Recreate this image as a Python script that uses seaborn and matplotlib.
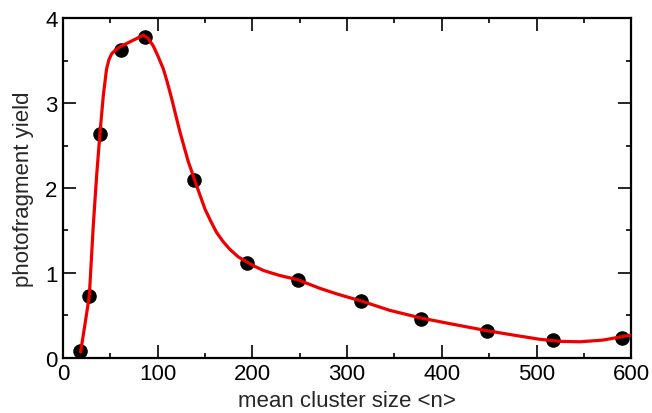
import matplotlib
matplotlib.use("Agg")
import matplotlib.pyplot as plt
import seaborn as sns
from matplotlib.ticker import MultipleLocator
from pandas import DataFrame

# Measured points
cluster_size = [18, 27.5, 39, 61, 86.5, 138, 194, 248, 315, 378, 448, 517, 590]
yield_vals = [0.08, 0.73, 2.64, 3.62, 3.78, 2.09, 1.12, 0.92, 0.67, 0.46, 0.32, 0.21, 0.24]

# Fit curve
fit_x = [18.6, 23, 27.8, 32, 35.5, 39, 42.6, 46, 48.5, 51.4, 55, 60, 70.7, 78, 84.8,
         90, 95.4, 100, 106, 110, 114.8, 119, 123.5, 128, 132.3, 137, 141, 145.5,
         150, 156, 162, 169, 176, 185, 194, 202, 211.5, 220, 229, 248, 271, 290,
         315, 345, 378, 410, 448, 475, 503, 525, 546, 570, 600]
fit_y = [0.07, 0.38, 0.73, 1.56, 2.14, 2.64, 3.09, 3.40, 3.51, 3.58, 3.62, 3.66, 3.72,
         3.76, 3.80, 3.76, 3.67, 3.56, 3.40, 3.25, 3.05, 2.86, 2.66, 2.48, 2.31, 2.16,
         2.03, 1.89, 1.75, 1.61, 1.48, 1.37, 1.28, 1.19, 1.13, 1.08, 1.03, 1.0, 0.97,
         0.92, 0.82, 0.75, 0.67, 0.56, 0.47, 0.40, 0.32, 0.27, 0.22, 0.195, 0.19,
         0.21, 0.27]


def plot() -> None:
    sns.set_style("ticks")
    plt.rcParams["font.family"] = ["Liberation Sans", "DejaVu Sans"]

    fig = plt.figure(figsize=(6.52, 4.14), dpi=100)
    ax = fig.add_axes([0.0966, 0.133, 0.8716, 0.821])

    fit = DataFrame({"x": fit_x, "y": fit_y})
    pts = DataFrame({"x": cluster_size, "y": yield_vals})

    sns.scatterplot(data=pts, x="x", y="y", ax=ax, color="black", s=110,
                    edgecolor="black", linewidth=0, zorder=2)
    sns.lineplot(data=fit, x="x", y="y", ax=ax, color="#ee0000", linewidth=2.3,
                 sort=False, estimator=None, zorder=3)

    ax.set_xlim(0, 600)
    ax.set_ylim(0, 4)
    ax.xaxis.set_major_locator(MultipleLocator(100))
    ax.xaxis.set_minor_locator(MultipleLocator(50))
    ax.yaxis.set_major_locator(MultipleLocator(1))
    ax.yaxis.set_minor_locator(MultipleLocator(0.5))
    ax.tick_params(which="both", direction="in", top=True, right=True,
                   width=1.2, labelsize=16, colors="black")
    ax.tick_params(which="major", length=9.5, pad=4)
    ax.tick_params(which="minor", length=3.5)
    for s in ax.spines.values():
        s.set_linewidth(1.6)
        s.set_color("black")

    ax.set_xlabel("mean cluster size <n>", fontsize=16, labelpad=4)
    ax.set_ylabel("photofragment yield", fontsize=16, labelpad=8)

    fig.savefig("out.png", dpi=100)


if __name__ == "__main__":
    plot()
